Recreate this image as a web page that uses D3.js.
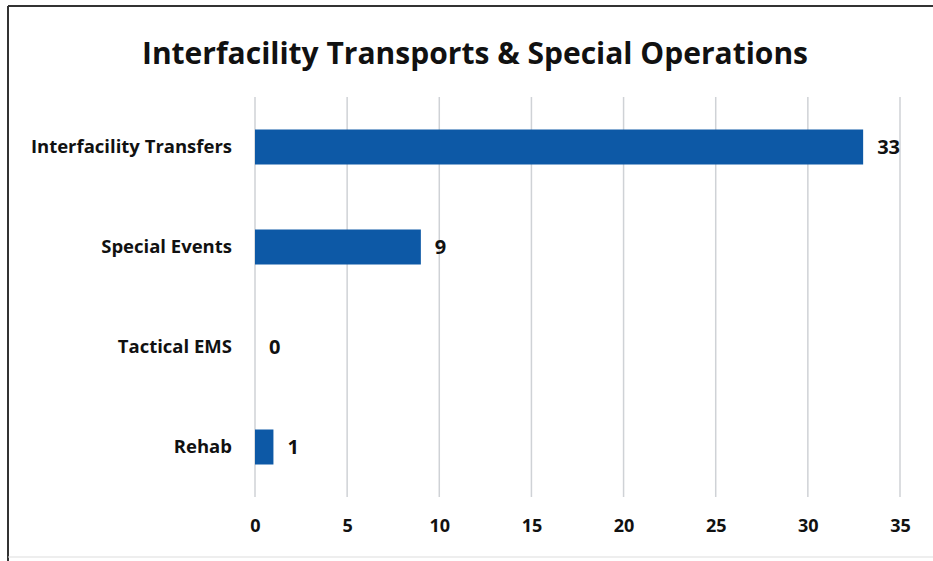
<!DOCTYPE html>
<html>
<head>
<meta charset="utf-8">
<script src="https://cdn.jsdelivr.net/npm/d3@7"></script>
<style>
  body { margin: 0; background: #fff; }
  svg { display: block; }
</style>
</head>
<body>
<svg id="chart" width="933" height="561"></svg>
<script>
var categories = ["Interfacility Transfers", "Special Events", "Tactical EMS", "Rehab"];
var values = [33, 9, 0, 1];
var tick_values = [0, 5, 10, 15, 20, 25, 30, 35];
var title = "Interfacility Transports & Special Operations";

var width = 933, height = 561;
var margin = {top: 97, right: 33, bottom: 64, left: 255};
var font = "'Open Sans', 'Noto Sans', sans-serif";

var svg = d3.select("#chart");

// frame
svg.append("line").attr("x1", 8).attr("y1", 6).attr("x2", width).attr("y2", 6)
    .attr("stroke", "#333").attr("stroke-width", 2);
svg.append("line").attr("x1", 8).attr("y1", 6).attr("x2", 8).attr("y2", height)
    .attr("stroke", "#333").attr("stroke-width", 2);
svg.append("line").attr("x1", 8).attr("y1", 557).attr("x2", width).attr("y2", 557)
    .attr("stroke", "#ddd").attr("stroke-width", 1);

var x = d3.scaleLinear().domain([0, 35]).range([margin.left, width - margin.right]);
var y = d3.scaleBand().domain(categories)
    .range([margin.top, height - margin.bottom]).paddingInner(0.65).paddingOuter(0.325);

// gridlines
svg.append("g")
    .selectAll("line")
    .data(tick_values)
    .enter()
    .append("line")
    .attr("x1", function (d) { return x(d); })
    .attr("x2", function (d) { return x(d); })
    .attr("y1", margin.top)
    .attr("y2", height - margin.bottom)
    .attr("stroke", "#cfd2d6")
    .attr("stroke-width", 1.5);

// x axis labels
var xAxis = d3.axisBottom(x).tickValues(tick_values).tickSize(0).tickPadding(0);
var xg = svg.append("g")
    .attr("transform", "translate(0," + (height - margin.bottom + 22) + ")")
    .call(xAxis);
xg.select(".domain").remove();
xg.selectAll("text")
    .attr("dy", "0.71em")
    .style("font-family", font)
    .style("font-weight", "bold")
    .style("font-size", "18px")
    .attr("fill", "#111");

// y axis labels
var yAxis = d3.axisLeft(y).tickSize(0).tickPadding(23);
var yg = svg.append("g")
    .attr("transform", "translate(" + margin.left + ",0)")
    .call(yAxis);
yg.select(".domain").remove();
yg.selectAll("text")
    .style("font-family", font)
    .style("font-weight", "bold")
    .style("font-size", "18.5px")
    .attr("fill", "#111");

// bars
svg.append("g")
    .selectAll("rect")
    .data(values)
    .enter()
    .append("rect")
    .attr("x", x(0))
    .attr("y", function (d, i) { return y(categories[i]); })
    .attr("width", function (d) { return x(d) - x(0); })
    .attr("height", y.bandwidth())
    .attr("fill", "#0d59a6");

// value labels
svg.append("g")
    .selectAll("text")
    .data(values)
    .enter()
    .append("text")
    .attr("x", function (d) { return x(d) + 14; })
    .attr("y", function (d, i) { return y(categories[i]) + y.bandwidth() / 2; })
    .attr("dy", "0.35em")
    .text(function (d) { return d; })
    .style("font-family", font)
    .style("font-weight", "bold")
    .style("font-size", "20px")
    .attr("fill", "#111");

// title
svg.append("text")
    .attr("x", 475)
    .attr("y", 64)
    .attr("text-anchor", "middle")
    .text(title)
    .style("font-family", font)
    .style("font-weight", "bold")
    .style("font-size", "30px")
    .attr("fill", "#111");
</script>
</body>
</html>
